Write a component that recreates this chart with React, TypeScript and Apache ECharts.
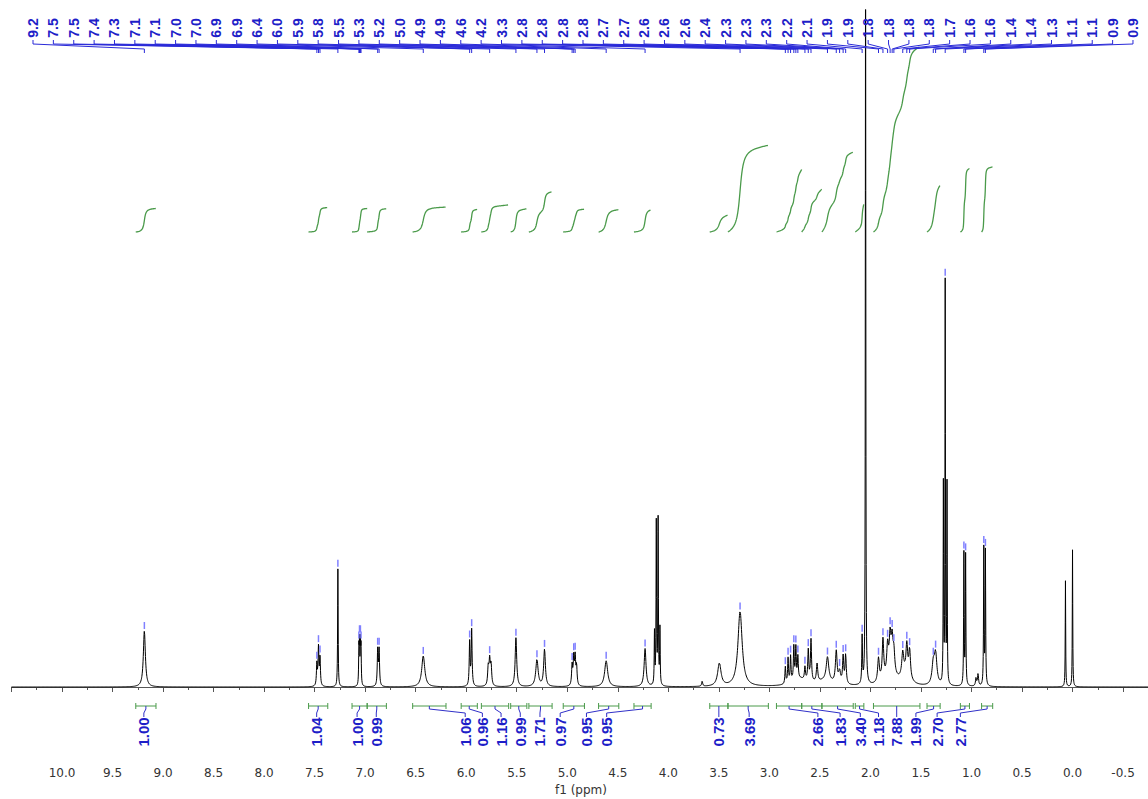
import React, { useEffect, useRef } from "react";
import * as echarts from "echarts";

// ---- spectrum lines (chemical shift ppm, height, half-width ppm) ----
const linePpm = [
  9.185, 7.478, 7.462, 7.447, 7.27, 7.062, 7.056, 7.047, 7.041, 6.876, 6.862, 6.425,
  5.966, 5.946, 5.782, 5.768, 5.754, 5.508, 5.3, 5.225, 4.952, 4.936, 4.922, 4.908,
  4.615, 4.23, 4.137, 4.119, 4.101, 4.083, 3.665, 3.495, 3.29,
  2.842, 2.815, 2.79, 2.758, 2.738, 2.718, 2.7, 2.648, 2.615, 2.588, 2.528, 2.45,
  2.425, 2.338, 2.305, 2.27, 2.245, 2.082, 2.048,
  1.92, 1.876, 1.83, 1.805, 1.785, 1.768, 1.8, 1.68, 1.64, 1.612, 1.65,
  1.378, 1.355, 1.278, 1.26, 1.242, 1.075, 1.058, 0.955, 0.935, 0.878, 0.862,
  0.07, 0.0,
];
const lineHeight = [
  56, 22, 38, 28, 118, 36, 40, 40, 36, 36, 36, 31,
  44, 56, 18, 24, 20, 49, 27, 37, 20, 27, 27, 19,
  26, 38, 52, 162, 165, 56, 5, 23, 75,
  17, 25, 26, 34, 32, 22, 7, 13, 31, 42, 18, 5,
  24, 32, 12, 27, 29, 47, 810,
  24, 40, 28, 34, 30, 20, 13, 24, 30, 28, 9,
  20, 30, 198, 400, 198, 132, 130, 8, 12, 137, 134,
  106, 137,
];
const lineWidth = [
  0.012, 0.005, 0.005, 0.005, 0.003, 0.003, 0.003, 0.003, 0.003, 0.005, 0.005, 0.018,
  0.005, 0.005, 0.007, 0.007, 0.007, 0.009, 0.014, 0.01, 0.006, 0.006, 0.006, 0.006,
  0.018, 0.011, 0.003, 0.003, 0.003, 0.003, 0.006, 0.02, 0.025,
  0.005, 0.005, 0.005, 0.005, 0.005, 0.005, 0.08, 0.006, 0.006, 0.006, 0.008, 0.1,
  0.015, 0.01, 0.01, 0.007, 0.007, 0.004, 0.0025,
  0.01, 0.009, 0.01, 0.01, 0.01, 0.01, 0.06, 0.012, 0.01, 0.01, 0.05,
  0.015, 0.015, 0.0025, 0.0025, 0.0025, 0.003, 0.003, 0.006, 0.006, 0.003, 0.003,
  0.0025, 0.0025,
];

// ---- picked peaks (labels at top) ----
const pickPpm = [
  9.185, 7.478, 7.462, 7.447, 7.27, 7.062, 7.056, 7.047, 7.041, 6.876, 6.862, 6.425,
  5.966, 5.946, 5.768, 5.508, 5.3, 5.225, 4.952, 4.936, 4.922, 4.615, 4.23, 3.29,
  2.842, 2.815, 2.79, 2.758, 2.738, 2.718, 2.648, 2.615, 2.588, 2.425, 2.338, 2.305,
  2.27, 2.245, 2.082, 1.92, 1.876, 1.83, 1.805, 1.785, 1.768, 1.68, 1.64, 1.612,
  1.378, 1.355, 1.26, 1.075, 1.058, 0.878, 0.862,
];

// ---- integrals ----
const integralFrom = [9.27, 7.56, 7.13, 6.98, 6.53, 6.05, 5.85, 5.56, 5.38, 5.04, 4.69, 4.34, 3.59, 3.41, 2.93, 2.68, 2.48, 2.15, 1.97, 1.44, 1.11, 0.9];
const integralTo = [9.07, 7.37, 6.98, 6.79, 6.2, 5.89, 5.58, 5.4, 5.15, 4.83, 4.49, 4.17, 3.41, 3.01, 2.68, 2.48, 2.17, 2.065, 1.51, 1.31, 1.02, 0.79];
const integralValue = [1.0, 1.04, 1.0, 0.99, 1.06, 0.96, 1.16, 0.99, 1.71, 0.97, 0.95, 0.95, 0.73, 3.69, 2.66, 1.83, 3.4, 1.18, 7.88, 1.99, 2.7, 2.77];
const integralLabelPpm = [9.19, 7.48, 7.08, 6.89, 6.01, 5.84, 5.655, 5.465, 5.27, 5.07, 4.81, 4.61, 3.5, 3.2, 2.52, 2.3, 2.1, 1.92, 1.74, 1.55, 1.34, 1.11];

const X_MIN = -1.0;
const X_MAX = 10.5;
const X_INTERVAL = 0.5;

const BLUE = "#1e1ec8";
const GREEN = "#4a9a4a";

function spectrumAt(x: number): number {
  let s = 0;
  for (let i = 0; i < linePpm.length; i++) {
    const d = (x - linePpm[i]) / lineWidth[i];
    s += lineHeight[i] / (1 + d * d);
  }
  return s;
}

function buildSpectrum(): number[][] {
  const xs: number[] = [];
  for (let x = 10.5; x >= -0.8; x -= 0.002) xs.push(+x.toFixed(4));
  for (const p of linePpm) xs.push(p);
  xs.sort((a, b) => b - a);
  return xs.map((x) => [x, spectrumAt(x)]);
}

function buildIntegral(spec: number[][], from: number, to: number, value: number): number[][] {
  const pts = spec.filter((p) => p[0] <= from && p[0] >= to);
  const cum: number[] = [0];
  for (let k = 1; k < pts.length; k++) {
    const dx = pts[k - 1][0] - pts[k][0];
    cum.push(cum[k - 1] + 0.5 * (pts[k - 1][1] + pts[k][1]) * dx);
  }
  const total = cum[cum.length - 1] || 1;
  return pts.map((p, k) => [p[0], (cum[k] / total) * value]);
}

export default function App() {
  const ref = useRef<HTMLDivElement>(null);
  useEffect(() => {
    document.body.style.margin = "0";
    if (!ref.current) return;
    const chart = echarts.init(ref.current, null, { renderer: "svg" });
    const spec = buildSpectrum();

    const integralSeries = integralFrom.map((f, i) => ({
      type: "line",
      xAxisIndex: 0,
      yAxisIndex: 1,
      data: buildIntegral(spec, f, integralTo[i], integralValue[i]),
      showSymbol: false,
      symbol: "none",
      silent: true,
      lineStyle: { color: GREEN, width: 1.3 },
      z: 3,
    }));

    const option: any = {
      animation: false,
      backgroundColor: "#ffffff",
      grid: {
        left: 11.48,
        top: 10,
        width: 1162.1,
        height: 746,
        containLabel: false,
        outerBoundsMode: "none",
      },
      xAxis: {
        type: "value",
        inverse: true,
        min: X_MIN,
        max: X_MAX,
        interval: X_INTERVAL,
        axisLine: { show: true, lineStyle: { color: "#555", width: 1 } },
        axisTick: { show: true, length: 5, inside: false, lineStyle: { color: "#555" } },
        minorTick: { show: true, splitNumber: 2, length: 3, lineStyle: { color: "#555" } },
        splitLine: { show: false },
        axisLabel: {
          formatter: (v: number) => v.toFixed(1),
          showMaxLabel: false,
          showMinLabel: false,
          color: "#333",
          fontSize: 12,
          fontFamily: "DejaVu Sans",
          margin: 11,
        },
      },
      yAxis: [
        { type: "value", min: -69, max: 677, show: false },
        { type: "value", min: -22.298, max: 9.447, show: false },
      ],
      graphic: [
        {
          type: "text",
          x: 581,
          y: 790,
          style: {
            text: "f1 (ppm)",
            fill: "#333",
            font: "12px 'DejaVu Sans'",
            align: "center",
            verticalAlign: "middle",
            textAlign: "center",
            textVerticalAlign: "middle",
          },
        },
      ],
      series: [
        {
          type: "line",
          data: spec,
          showSymbol: false,
          symbol: "none",
          silent: true,
          clip: true,
          lineStyle: { color: "#000", width: 1 },
          z: 2,
        },
        ...integralSeries,
        {
          type: "custom",
          coordinateSystem: "cartesian2d",
          data: pickPpm.map((p) => [p, 0]),
          silent: true,
          z: 5,
          renderItem: (params: any, api: any) => {
            const i = params.dataIndex;
            const ppm = pickPpm[i];
            const px = api.coord([ppm, 0])[0];
            const top = api.coord([ppm, spectrumAt(ppm)])[1];
            const lx = 33 + i * 20.37;
            return {
              type: "group",
              children: [
                {
                  type: "text",
                  x: lx,
                  y: 28,
                  rotation: Math.PI / 2,
                  style: {
                    text: ppm.toFixed(1),
                    fill: BLUE,
                    font: "bold 14px 'Liberation Sans', Arial, sans-serif",
                    align: "center",
                    verticalAlign: "middle",
                    textAlign: "center",
                    textVerticalAlign: "middle",
                  },
                },
                {
                  type: "polyline",
                  shape: { points: [[lx, 40], [lx, 44], [px, 49], [px, 53]] },
                  style: { stroke: "#2a2ad8", fill: "none", lineWidth: 1 },
                },
                {
                  type: "line",
                  shape: { x1: px, y1: top - 9, x2: px, y2: top - 2 },
                  style: { stroke: "#8080ff", lineWidth: 1.5 },
                },
              ],
            };
          },
        },
        {
          type: "custom",
          coordinateSystem: "cartesian2d",
          data: integralFrom.map((f, i) => [f, integralTo[i]]),
          silent: true,
          z: 5,
          renderItem: (params: any, api: any) => {
            const i = params.dataIndex;
            const x1 = api.coord([integralFrom[i], 0])[0];
            const x2 = api.coord([integralTo[i], 0])[0];
            const lx = api.coord([integralLabelPpm[i], 0])[0];
            const cx = (x1 + x2) / 2;
            const y = 706;
            return {
              type: "group",
              children: [
                { type: "line", shape: { x1, y1: y, x2, y2: y }, style: { stroke: GREEN, lineWidth: 1 } },
                { type: "line", shape: { x1, y1: y - 3, x2: x1, y2: y + 3 }, style: { stroke: GREEN, lineWidth: 1 } },
                { type: "line", shape: { x1: x2, y1: y - 3, x2, y2: y + 3 }, style: { stroke: GREEN, lineWidth: 1 } },
                {
                  type: "polyline",
                  shape: { points: [[cx, y], [cx, y + 3], [lx, y + 7], [lx, y + 11]] },
                  style: { stroke: "#3030c8", fill: "none", lineWidth: 1 },
                },
                {
                  type: "text",
                  x: lx,
                  y: 732,
                  rotation: Math.PI / 2,
                  style: {
                    text: integralValue[i].toFixed(2),
                    fill: BLUE,
                    font: "bold 15px 'Liberation Sans', Arial, sans-serif",
                    align: "center",
                    verticalAlign: "middle",
                    textAlign: "center",
                    textVerticalAlign: "middle",
                  },
                },
              ],
            };
          },
        },
      ],
    };
    chart.setOption(option);
    return () => chart.dispose();
  }, []);
  return <div ref={ref} style={{ width: 1148, height: 799 }} />;
}
